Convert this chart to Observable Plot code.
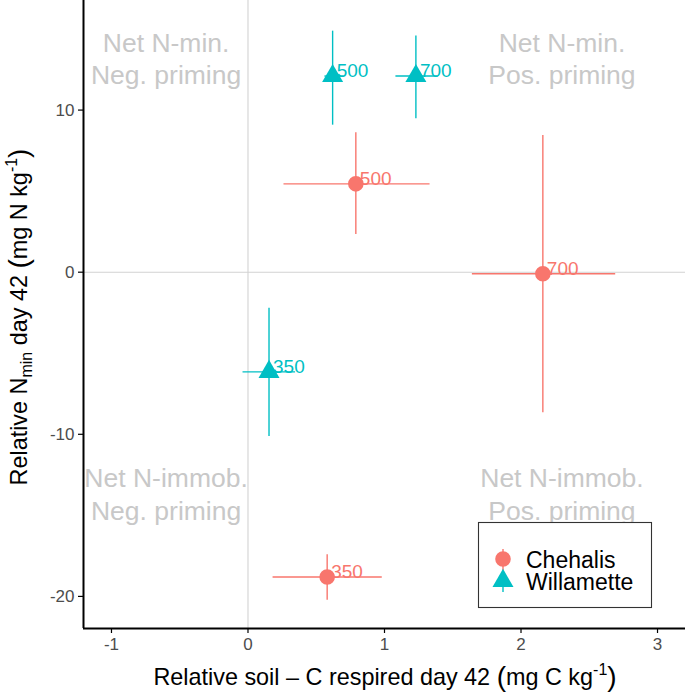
<!DOCTYPE html>
<html>
<head>
<meta charset="utf-8">
<script src="https://cdn.jsdelivr.net/npm/d3@7"></script>
<script src="https://cdn.jsdelivr.net/npm/@observablehq/plot@0.6"></script>
<style>
  html, body { margin: 0; padding: 0; background: #ffffff; }
  #chart { width: 685px; height: 694px; }
</style>
</head>
<body>
<div id="chart"></div>
<script>
// ---- data ----
const sites = ["Chehalis", "Chehalis", "Chehalis", "Willamette", "Willamette", "Willamette"];
const rates = ["350", "500", "700", "350", "500", "700"];
const carbon = [0.58, 0.79, 2.16, 0.154, 0.62, 1.23];
const carbonLo = [0.18, 0.26, 1.64, -0.04, 0.56, 1.08];
const carbonHi = [0.98, 1.33, 2.69, 0.345, 0.70, 1.39];
const nmin = [-18.8, 5.45, -0.1, -6.15, 12.1, 12.1];
const nminLo = [-20.2, 2.35, -8.64, -10.1, 9.1, 9.5];
const nminHi = [-17.4, 8.64, 8.46, -2.2, 14.9, 14.6];

const siteNames = ["Chehalis", "Willamette"];
const siteColors = ["#F8766D", "#00BFC4"];
const siteSymbols = ["circle", "triangle"];

const xTicks = [-1, 0, 1, 2, 3];
const yTicks = [-20, -10, 0, 10];
const xDomain = [-1.205, 3.205];
const yDomain = [-21.98, 16.76];

const quadLabels = ["Net N-min.\nNeg. priming", "Net N-min.\nPos. priming", "Net N-immob.\nNeg. priming", "Net N-immob.\nPos. priming"];
const quadX = [-0.6, 2.3, -0.6, 2.3];
const quadY = [13.25, 13.25, -13.62, -13.62];

// ---- tables ----
const rows = sites.map((s, i) => ({
  site: s, rate: rates[i], x: carbon[i], xLo: carbonLo[i], xHi: carbonHi[i],
  y: nmin[i], yLo: nminLo[i], yHi: nminHi[i]
}));
const quads = quadLabels.map((t, i) => ({text: t, x: quadX[i], y: quadY[i]}));

const FONT = "'Liberation Sans', Arial, Helvetica, sans-serif";
const fmt = d => String(d);

const chart = Plot.plot({
  width: 685,
  height: 694,
  marginLeft: 83,
  marginRight: 0,
  marginTop: 0,
  marginBottom: 66,
  style: {fontFamily: FONT, background: "#ffffff", overflow: "visible"},
  x: {domain: xDomain, label: null},
  y: {domain: yDomain, label: null},
  color: {domain: siteNames, range: siteColors},
  symbol: {domain: siteNames, range: siteSymbols},
  marks: [
    Plot.ruleX([0], {stroke: "#d2d2d2", strokeWidth: 1.1}),
    Plot.ruleY([0], {stroke: "#d2d2d2", strokeWidth: 1.1}),
    Plot.text(quads, {x: "x", y: "y", text: "text", fill: "#c8c8c8", fontSize: 26.5, lineHeight: 1.23, textAnchor: "middle", lineAnchor: "middle"}),
    Plot.link(rows, {x1: "xLo", x2: "xHi", y1: "y", y2: "y", stroke: "site", strokeWidth: 1.4}),
    Plot.link(rows, {x1: "x", x2: "x", y1: "yLo", y2: "yHi", stroke: "site", strokeWidth: 1.4}),
    Plot.dot(rows, {x: "x", y: "y", fill: "site", symbol: "site", r: 7.8, stroke: "none"}),
    Plot.text(rows, {x: "x", y: "y", text: "rate", fill: "site", fontSize: 19, textAnchor: "start", lineAnchor: "bottom", dx: 4, dy: 1}),
    Plot.axisX({ticks: xTicks, tickFormat: fmt, tickSize: 5, tickPadding: 4, fontSize: 17, stroke: "#000", fill: "#4d4d4d", label: null, strokeWidth: 1.2}),
    Plot.axisY({ticks: yTicks, tickFormat: fmt, tickSize: 5, tickPadding: 4, fontSize: 17, stroke: "#000", fill: "#4d4d4d", label: null, strokeWidth: 1.2}),
    Plot.ruleX([xDomain[0]], {stroke: "#000", strokeWidth: 2}),
    Plot.ruleY([yDomain[0]], {stroke: "#000", strokeWidth: 2})
  ]
});

document.getElementById("chart").appendChild(chart);

// ---- axis titles and legend (non-data decorations) ----
const svg = d3.select(chart);

// x title
const xt = svg.append("text")
  .attr("x", 385).attr("y", 685)
  .attr("text-anchor", "middle")
  .attr("font-family", FONT).attr("font-size", 23.4).attr("fill", "#000");
xt.append("tspan").text("Relative soil \u2013 C respired day 42 ");
xt.append("tspan").attr("font-size", 28).attr("dy", 1).text("(");
xt.append("tspan").attr("dy", -1).text("mg C kg");
xt.append("tspan").attr("font-size", 16).attr("dy", -10).text("-1");
xt.append("tspan").attr("font-size", 28).attr("dy", 11).text(")");

// y title
const yt = svg.append("text")
  .attr("transform", "translate(27,317) rotate(-90)")
  .attr("text-anchor", "middle")
  .attr("font-family", FONT).attr("font-size", 23.4).attr("fill", "#000");
yt.append("tspan").text("Relative N");
yt.append("tspan").attr("font-size", 16).attr("dy", 5).text("min");
yt.append("tspan").attr("dy", -5).text(" day 42 ");
yt.append("tspan").attr("font-size", 28).attr("dy", 1).text("(");
yt.append("tspan").attr("dy", -1).text("mg N kg");
yt.append("tspan").attr("font-size", 16).attr("dy", -10).text("-1");
yt.append("tspan").attr("font-size", 28).attr("dy", 11).text(")");

// legend
const lg = svg.append("g").attr("text-anchor", "start");
lg.append("rect").attr("x", 478.5).attr("y", 522.5).attr("width", 173).attr("height", 85)
  .attr("fill", "#fff").attr("stroke", "#333").attr("stroke-width", 1.1);
siteNames.forEach((name, i) => {
  const cy = 559 + i * 22;
  const sym = i === 0 ? d3.symbolCircle : d3.symbolTriangle;
  lg.append("line").attr("x1", 503).attr("x2", 503).attr("y1", cy - 10).attr("y2", cy + 11)
    .attr("stroke", siteColors[i]).attr("stroke-width", 1.4);
  lg.append("path").attr("d", d3.symbol(sym, Math.PI * 7.8 * 7.8)())
    .attr("transform", `translate(503,${cy})`).attr("fill", siteColors[i]);
  lg.append("text").attr("x", 526).attr("y", cy + 9).attr("text-anchor", "start")
    .attr("font-family", FONT).attr("font-size", 23).attr("fill", "#000").text(name);
});
</script>
</body>
</html>
